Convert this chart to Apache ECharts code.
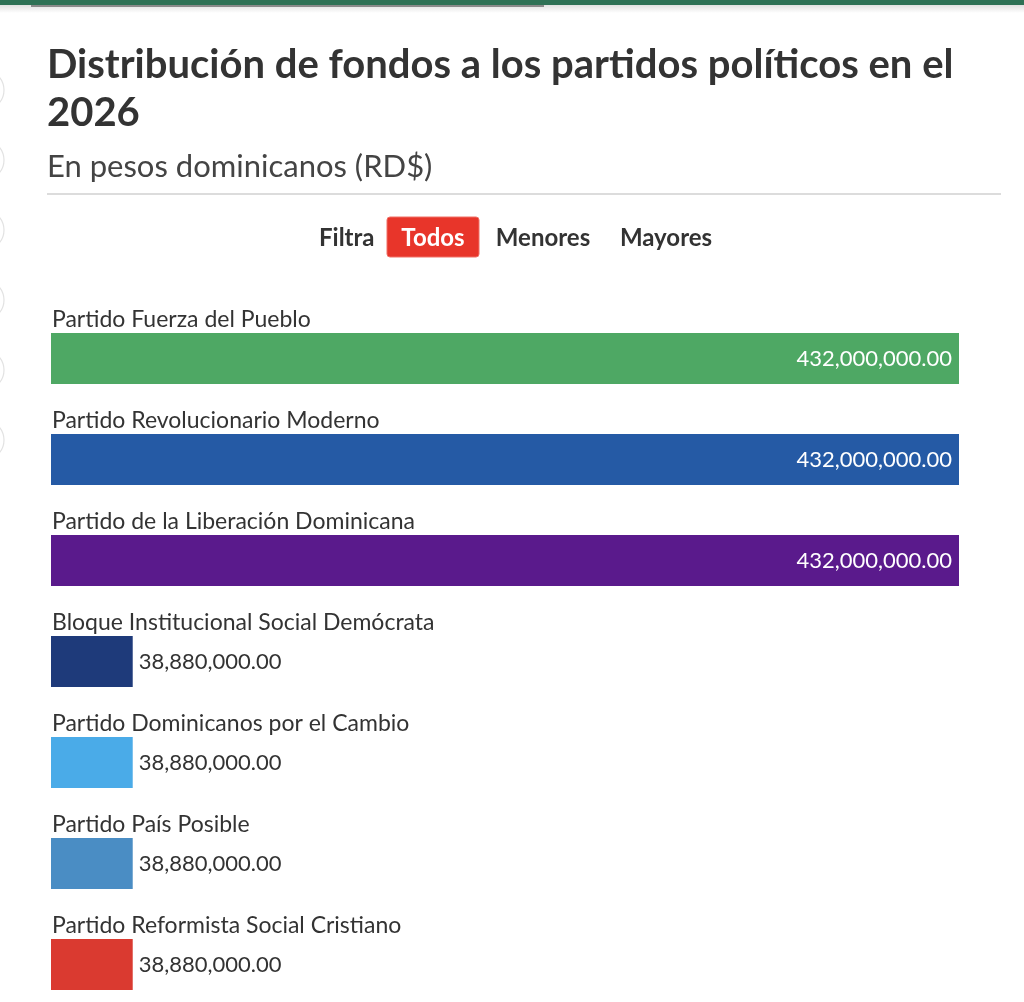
<!DOCTYPE html>
<html>
<head>
<meta charset="utf-8">
<script src="https://cdn.jsdelivr.net/npm/echarts@6/dist/echarts.min.js"></script>
<style>
html,body{margin:0;padding:0;background:#fff;}
#chart{width:1024px;height:1002px;}
</style>
</head>
<body>
<div id="chart"></div>
<script>
const parties = [
  'Partido Fuerza del Pueblo',
  'Partido Revolucionario Moderno',
  'Partido de la Liberación Dominicana',
  'Bloque Institucional Social Demócrata',
  'Partido Dominicanos por el Cambio',
  'Partido País Posible',
  'Partido Reformista Social Cristiano'
];
const funds = [432000000, 432000000, 432000000, 38880000, 38880000, 38880000, 38880000];
const partyColors = ['#4EA864', '#255AA5', '#5A1A8C', '#1E3A7A', '#4AABE8', '#4A8DC4', '#DA3A30'];
const filterLabels = ['Filtra', 'Todos', 'Menores', 'Mayores'];

const FONT = 'Lato, "Source Sans Pro", sans-serif';
const maxVal = Math.max(...funds);
const fmt = v => v.toLocaleString('en-US', {minimumFractionDigits: 2, maximumFractionDigits: 2});

const chart = echarts.init(document.getElementById('chart'), null, {renderer: 'canvas'});

const mainData = funds.map((v, i) => {
  const big = v > maxVal / 2;
  return {
    value: v,
    itemStyle: {color: partyColors[i]},
    label: big
      ? {show: true, position: 'insideRight', distance: 7, color: '#fff'}
      : {show: true, position: 'right', distance: 6, color: '#333'}
  };
});

const circles = [90, 160, 230, 300, 370, 440].map(y => ({
  type: 'circle', shape: {cx: -16, cy: y, r: 20},
  style: {fill: 'none', stroke: '#e2e2e2', lineWidth: 1.2}, silent: true
}));

const option = {
  backgroundColor: '#fff',
  animation: false,
  title: {
    text: 'Distribución de fondos a los partidos políticos en el\n2026',
    subtext: 'En pesos dominicanos (RD$)',
    left: 47, top: 41, padding: 0,
    itemGap: 12,
    textStyle: {fontFamily: FONT, fontSize: 40, fontWeight: 'bold', color: '#333', lineHeight: 48},
    subtextStyle: {fontFamily: FONT, fontSize: 31, color: '#444', lineHeight: 36}
  },
  graphic: [
    {type: 'rect', shape: {x: 0, y: 0, width: 1024, height: 5}, style: {fill: '#2E7155'}, silent: true},
    {type: 'rect', shape: {x: 31, y: 5, width: 513, height: 2}, style: {fill: '#8a8a8a'}, silent: true},
    {type: 'rect', shape: {x: 0, y: 5, width: 1024, height: 8},
      style: {fill: new echarts.graphic.LinearGradient(0, 0, 0, 1, [{offset: 0, color: 'rgba(0,0,0,0.12)'}, {offset: 1, color: 'rgba(0,0,0,0)'}])}, silent: true, z: -1},
    ...circles,
    {type: 'line', shape: {x1: 47, y1: 194, x2: 1001, y2: 194}, style: {stroke: '#dcdcdc', lineWidth: 2}, silent: true},
    {type: 'text', x: 319, y: 238, style: {text: filterLabels[0], font: 'bold 24px ' + FONT, fill: '#333', align: 'left', verticalAlign: 'middle'}},
    {type: 'rect', shape: {x: 387, y: 217, width: 92, height: 40, r: 3}, style: {fill: '#E8352A', stroke: '#F07067', lineWidth: 1}},
    {type: 'text', x: 433, y: 238, style: {text: filterLabels[1], font: 'bold 24px ' + FONT, fill: '#fff', align: 'center', verticalAlign: 'middle'}},
    {type: 'text', x: 543, y: 238, style: {text: filterLabels[2], font: 'bold 24px ' + FONT, fill: '#333', align: 'center', verticalAlign: 'middle'}},
    {type: 'text', x: 666, y: 238, style: {text: filterLabels[3], font: 'bold 24px ' + FONT, fill: '#333', align: 'center', verticalAlign: 'middle'}}
  ],
  grid: {left: 51, right: 65, top: 308, height: 707, containLabel: false, outerBoundsMode: 'none'},
  xAxis: {type: 'value', min: 0, max: maxVal, show: false},
  yAxis: {type: 'category', data: parties, inverse: true, show: false},
  series: [
    {
      type: 'bar', data: mainData, barWidth: 51, z: 2,
      label: {fontFamily: FONT, fontSize: 22, formatter: p => fmt(p.value)}
    },
    {
      type: 'bar', data: funds, barWidth: 51, barGap: '-100%', z: 3, silent: true,
      itemStyle: {color: 'rgba(0,0,0,0)'},
      label: {
        show: true, position: [1, -2], align: 'left', verticalAlign: 'bottom',
        fontFamily: FONT, fontSize: 23, color: '#333',
        formatter: p => p.name
      }
    }
  ]
};
chart.setOption(option);
</script>
</body>
</html>
